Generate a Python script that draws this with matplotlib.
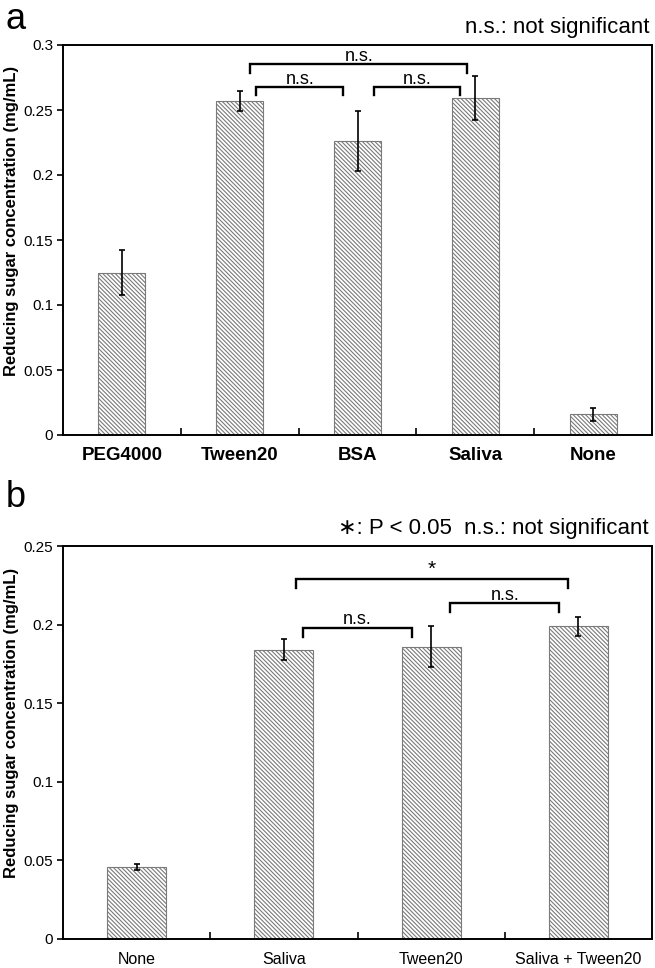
import numpy as np
import matplotlib
matplotlib.use('Agg')
import matplotlib.pyplot as plt
from matplotlib.ticker import FixedLocator, FuncFormatter

plt.rcParams['font.family'] = ['Liberation Sans', 'DejaVu Sans']
plt.rcParams['hatch.linewidth'] = 0.8

# panel a
labels_a = ['PEG4000', 'Tween20', 'BSA', 'Saliva', 'None']
means_a = [0.125, 0.257, 0.226, 0.259, 0.016]
errs_a = [0.017, 0.0077, 0.023, 0.017, 0.005]
# significance brackets: x start, x end, height, text
brackets_a = [(1.09, 2.93, 0.285, 'n.s.'),
              (1.14, 1.88, 0.2675, 'n.s.'),
              (2.14, 2.87, 0.2675, 'n.s.')]

# panel b
labels_b = ['None', 'Saliva', 'Tween20', 'Saliva + Tween20']
means_b = [0.046, 0.184, 0.186, 0.199]
errs_b = [0.002, 0.0067, 0.013, 0.006]
brackets_b = [(1.08, 2.93, 0.229, '*'),
              (1.13, 1.87, 0.198, 'n.s.'),
              (2.13, 2.87, 0.2137, 'n.s.')]


def draw(ax, labels, means, errs, brackets, ymax, leg, bold, note):
    x = np.arange(len(labels))
    ax.bar(x, means, width=0.4, color='white', edgecolor='#7a7a7a', linewidth=0.8,
           hatch='\\\\\\\\\\\\\\\\', zorder=2)
    ax.errorbar(x, means, yerr=errs, fmt='none', ecolor='black', elinewidth=1.2,
                capsize=2.5, capthick=1.2, zorder=3)
    ax.set_xlim(-0.5, len(labels) - 0.5)
    ax.set_ylim(0, ymax)

    # category labels at centres, small inward ticks at the boundaries
    ax.set_xticks(x)
    ax.set_xticklabels(labels, fontsize=13.5 if bold else 11.5,
                       fontweight='bold' if bold else 'normal')
    ax.tick_params(axis='x', which='major', length=0, pad=9)
    ax.xaxis.set_minor_locator(FixedLocator(x[:-1] + 0.5))
    ax.tick_params(axis='x', which='minor', direction='in', length=5, width=1.2)

    ax.set_yticks(np.arange(0, ymax + 1e-9, 0.05))
    ax.yaxis.set_major_formatter(FuncFormatter(lambda v, p: '%g' % round(v, 2)))
    ax.tick_params(axis='y', direction='out', length=4, width=1.2, labelsize=11, pad=3)

    for s in ax.spines.values():
        s.set_linewidth(1.4)
        s.set_color('black')

    ax.set_ylabel('Reducing sugar concentration (mg/mL)', fontsize=12, fontweight='bold')
    ax.yaxis.set_label_coords(-0.074, 0.55)

    for x0, x1, y, txt in brackets:
        ax.plot([x0, x0, x1, x1], [y - leg, y, y, y - leg], color='black', lw=1.7,
                solid_joinstyle='miter', zorder=4)
        if txt == '*':
            ax.annotate(txt, ((x0 + x1) / 2, y), xytext=(0, 0), textcoords='offset points',
                        ha='center', va='bottom', fontsize=15)
        else:
            ax.annotate(txt, ((x0 + x1) / 2, y), xytext=(0, 2.5), textcoords='offset points',
                        ha='center', va='baseline', fontsize=13)

    ax.text(0.995, 1.018, note, transform=ax.transAxes, ha='right', va='bottom', fontsize=16)


fig = plt.figure(figsize=(6.55, 9.68), dpi=100)
left, width = 63 / 655, 589 / 655
ax_a = fig.add_axes([left, 1 - 435 / 968, width, 390 / 968])
ax_b = fig.add_axes([left, 1 - 939 / 968, width, 393 / 968])

draw(ax_a, labels_a, means_a, errs_a, brackets_a, 0.3, 0.0062, True,
     'n.s.: not significant')
draw(ax_b, labels_b, means_b, errs_b, brackets_b, 0.25, 0.0057, False,
     '\u2217: P < 0.05  n.s.: not significant')

fig.text(0.008, 1 - 2 / 968, 'a', fontsize=26, ha='left', va='top')
fig.text(0.008, 1 - 480 / 968, 'b', fontsize=26, ha='left', va='top')

fig.savefig('out.png', dpi=100)
